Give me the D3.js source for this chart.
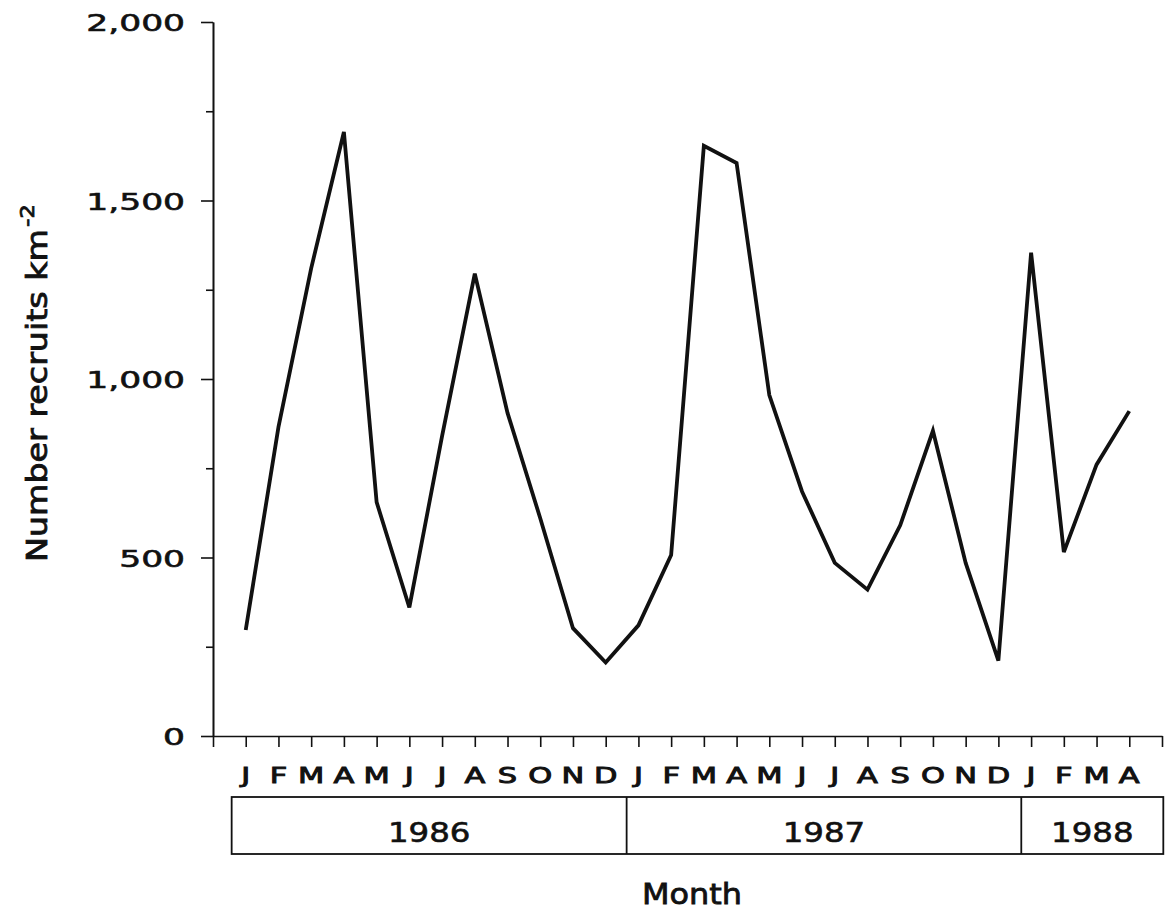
<!DOCTYPE html>
<html>
<head>
<meta charset="utf-8">
<script src="https://cdn.jsdelivr.net/npm/d3@7"></script>
<style>
  html, body { margin: 0; padding: 0; background: #fff; }
  text { font-family: "DejaVu Sans", sans-serif; fill: #111; stroke: #111; stroke-width: 0.6px; }
</style>
</head>
<body>
<div id="chart"></div>
<script>
// Month labels, Jan 1986 to Apr 1988
var months = ["J","F","M","A","M","J","J","A","S","O","N","D",
              "J","F","M","A","M","J","J","A","S","O","N","D",
              "J","F","M","A"];
// Number of recruits per km2, one value per month
var recruits = [297, 865, 1310, 1692, 655, 360, 840, 1295, 905, 610, 302, 206,
                310, 507, 1653, 1605, 955, 685, 485, 410, 590, 855, 485, 211,
                1354, 515, 760, 910];
var yTicks = [0, 500, 1000, 1500, 2000];
var yMinorTicks = [250, 750, 1250, 1750];
var years = ["1986", "1987", "1988"];
// year box edges, in month index units
var yearEdges = [-0.43, 11.64, 23.70, 28.04];

function drawChart() {
  var w = 1165;
  var h = 911;

  var svg = d3.select("#chart")
    .append("svg")
    .attr("width", w)
    .attr("height", h)
    .style("background", "#fff");

  var xScale = d3.scaleLinear().domain([-1, 28]).range([213, 1162]);
  var yScale = d3.scaleLinear().domain([0, 2000]).range([736, 22]);

  // y axis, major ticks with labels
  var yAxis = svg.append("g")
    .attr("transform", "translate(" + xScale(-1) + ",0)")
    .call(d3.axisLeft(yScale)
      .tickValues(yTicks)
      .tickSize(12)
      .tickSizeOuter(0)
      .tickFormat(d3.format(",")));
  var sxTick = 1.5;
  yAxis.selectAll("text")
    .attr("x", -28 / sxTick)
    .attr("dy", "0.38em")
    .attr("transform", "scale(" + sxTick + ",1)")
    .style("font-size", "23px")
    .style("font-family", "DejaVu Sans, sans-serif")
    .attr("fill", "#111");

  // minor ticks
  svg.append("g")
    .attr("transform", "translate(" + xScale(-1) + ",0)")
    .call(d3.axisLeft(yScale)
      .tickValues(yMinorTicks)
      .tickSize(7)
      .tickSizeOuter(0)
      .tickFormat(""));

  // x axis, one tick per month (plus both ends)
  svg.append("g")
    .attr("transform", "translate(0," + yScale(0) + ")")
    .call(d3.axisBottom(xScale)
      .tickValues(d3.range(-1, 29))
      .tickSize(11)
      .tickSizeOuter(0)
      .tickFormat(""));

  svg.selectAll(".domain, .tick line")
    .attr("stroke", "#111")
    .attr("stroke-width", 1.6);

  // month letters
  svg.selectAll(".month")
    .data(months)
    .enter()
    .append("text")
    .attr("class", "month")
    .attr("transform", function (d, i) {
      return "translate(" + xScale(i) + ",783) scale(1.45,1)";
    })
    .attr("text-anchor", "middle")
    .style("font-size", "21px")
    .style("stroke-width", "0.9px")
    .text(function (d) { return d; });

  // year box
  var boxTop = 797;
  var boxBottom = 854;
  svg.append("rect")
    .attr("x", xScale(yearEdges[0]))
    .attr("y", boxTop)
    .attr("width", xScale(yearEdges[3]) - xScale(yearEdges[0]))
    .attr("height", boxBottom - boxTop)
    .attr("fill", "none")
    .attr("stroke", "#111")
    .attr("stroke-width", 1.8);
  svg.selectAll(".ydiv")
    .data(yearEdges.slice(1, 3))
    .enter()
    .append("line")
    .attr("class", "ydiv")
    .attr("x1", function (d) { return xScale(d); })
    .attr("x2", function (d) { return xScale(d); })
    .attr("y1", boxTop)
    .attr("y2", boxBottom)
    .attr("stroke", "#111")
    .attr("stroke-width", 1.8);
  svg.selectAll(".year")
    .data(years)
    .enter()
    .append("text")
    .attr("class", "year")
    .attr("transform", function (d, i) {
      var cx = (xScale(yearEdges[i]) + xScale(yearEdges[i + 1])) / 2;
      return "translate(" + cx + ",842) scale(1.2,1)";
    })
    .attr("text-anchor", "middle")
    .style("font-size", "27px")
    .text(function (d) { return d; });

  // axis titles
  svg.append("text")
    .attr("transform", "translate(692,904) scale(1.1,1)")
    .attr("text-anchor", "middle")
    .style("font-size", "29px")
    .style("stroke-width", "0.8px")
    .text("Month");

  var yTitle = svg.append("text")
    .attr("transform", "translate(47,562) rotate(-90) scale(1.19,1)")
    .attr("text-anchor", "start")
    .style("font-size", "28px")
    .style("stroke-width", "0.8px");
  yTitle.append("tspan").text("Number recruits km");
  yTitle.append("tspan")
    .attr("dy", -13)
    .attr("dx", 2)
    .style("font-size", "19px")
    .text("-2");

  // the series line
  var line = d3.line()
    .x(function (d, i) { return xScale(i); })
    .y(function (d) { return yScale(d); });

  svg.append("path")
    .datum(recruits)
    .attr("d", line)
    .attr("fill", "none")
    .attr("stroke", "#111")
    .attr("stroke-width", 3.8)
    .attr("stroke-linejoin", "miter");
}
drawChart();
</script>
</body>
</html>
